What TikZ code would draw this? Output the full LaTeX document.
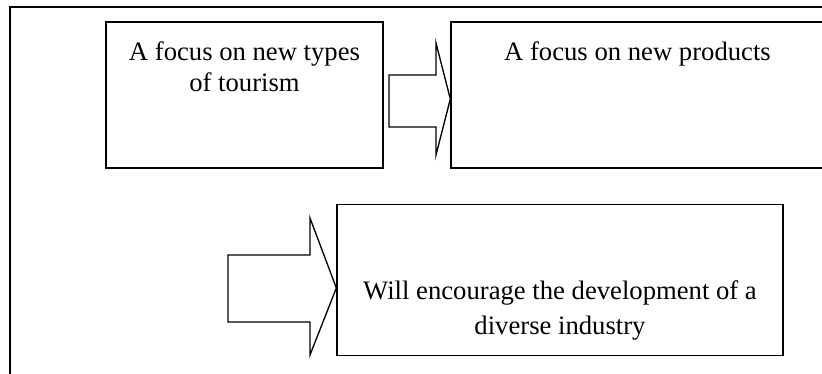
\documentclass[tikz,border=0pt]{standalone}
\usepackage{fontspec}
\setmainfont{Liberation Serif}
\usetikzlibrary{calc}

\begin{document}
\begin{tikzpicture}[
    x=0.45pt, y=-0.45pt,
    panel/.style 2 args={draw,line width=0.6pt,minimum width=#1*0.45pt,minimum height=#2*0.45pt,inner sep=0pt},
    caption/.style={align=center,anchor=base,inner sep=0pt,font=\fontsize{12}{14}\selectfont},
    fatarrow/.style={draw,line width=0.6pt,line join=miter}
]
\useasboundingbox (0,0) rectangle (822,374);

%Draw the frame
\draw[line width=0.7pt] (10,380) -- (10,7) -- (830,7);

%Draw the boxes
\node[panel={277}{146}] (b1) at (244.5,95) {};
\node[panel={373}{146}] (b2) at (637.5,95) {};
\node[panel={446}{151}] (b3) at (560,280) {};

%Draw the texts
\node[caption] (t1) at ($(b1.north)+(0,70)$) {A focus on new types\\of tourism};
\node[caption] (t2) at ($(b2.north)+(0,39)$) {A focus on new products};
\node[caption] (t3) at ($(b3.north)+(0,131)$) {Will encourage the development of a\\[1.75pt]diverse industry};

%Draw the arrows
\draw[fatarrow] (389,75) -- (436,75) -- (436,43) -- (b2.west |- 0,99) -- (436,155) -- (436,127) -- (389,127) -- cycle;
\draw[fatarrow] (228,255) -- (310,255) -- (310,218) -- (b3.west |- 0,288) -- (310,355) -- (310,322) -- (228,322) -- cycle;

\end{tikzpicture}
\end{document}
